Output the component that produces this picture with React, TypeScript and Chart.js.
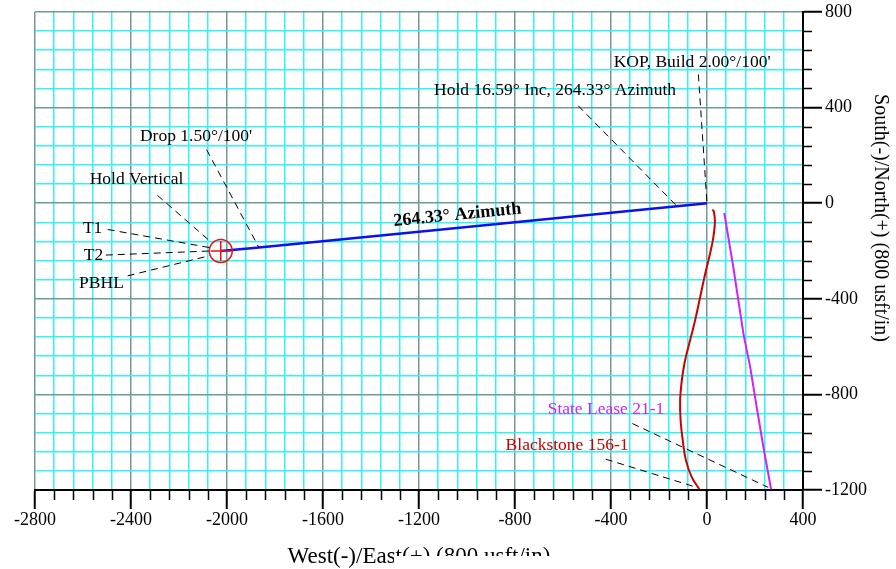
import React, { useEffect, useRef } from 'react';
import { Chart, registerables } from 'chart.js';

Chart.register(...registerables);

const SERIF = '"Liberation Serif", "Times New Roman", serif';

// Axis ranges (usft)
const xMin = -2800;
const xMax = 400;
const yMin = -1200;
const yMax = 800;
const gridStep = 80;
const majorStep = 400;

// Plan wellbore: West(-)/East(+) and South(-)/North(+)
const planEast = [0, -30, -125, -600, -1200, -1867, -2026];
const planNorth = [0, -3, -12.4, -59.6, -119, -185, -200];

// Offset well: State Lease 21-1
const stateLeaseEast = [72, 110, 152, 180, 207, 235, 267];
const stateLeaseNorth = [-41, -270, -547, -686, -853, -1020, -1197];

// Offset well: Blackstone 156-1
const blackstoneEast = [22, 28, 33, 26, 12, -8, -29, -50, -71, -92, -105, -112, -110, -101, -88, -64, -32];
const blackstoneNorth = [-27, -34, -75, -145, -214, -297, -395, -492, -576, -660, -742, -825, -908, -992, -1075, -1145, -1197];

// Target (PBHL)
const targetEast = -2026;
const targetNorth = -200;

// Annotation texts
const labelTexts = [
  "KOP, Build 2.00\u00B0/100'",
  'Hold 16.59\u00B0 Inc, 264.33\u00B0 Azimuth',
  "Drop 1.50\u00B0/100'",
  'Hold Vertical',
  'T1',
  'T2',
  'PBHL',
  'State Lease 21-1',
  'Blackstone 156-1',
];
// label anchor (data units), leader start, leader end
const labelEast = [-62, -633, -2129, -2377, -2560, -2556, -2523, -421, -583];
const labelNorth = [590, 474, 279, 100, -104, -217, -336, -864, -1015];
const leaderFromEast = [-36, -537, -2085, -2290, -2497, -2505, -2414, -311, -422];
const leaderFromNorth = [539, 408, 224, 33, -110, -217, -304, -922, -1071];
const leaderToEast = [0, -125, -1867, -2064, -2071, -2071, -2078, 255, -43];
const leaderToNorth = [0, -12.4, -185.4, -165, -186, -200, -221, -1189, -1189];
const labelColors = ['#000', '#000', '#000', '#000', '#000', '#000', '#000', '#cc22ff', '#cc0000'];

const azimuthLabel = '264.33\u00B0 Azimuth';
const azimuthLabelEast = -1040;
const azimuthLabelNorth = -50;

const xTitle = 'West(-)/East(+) (800 usft/in)';
const yTitle = 'South(-)/North(+) (800 usft/in)';

const isMajor = (v: number) => Math.abs(v % majorStep) < 1e-6;

const toPts = (xs: number[], ys: number[]) => xs.map((x, i) => ({ x, y: ys[i] }));

const overlayPlugin = {
  id: 'overlay',
  afterDatasetsDraw(chart: any) {
    const { ctx, chartArea } = chart;
    const xs = chart.scales.x;
    const ys = chart.scales.y;
    const px = (v: number) => xs.getPixelForValue(v);
    const py = (v: number) => ys.getPixelForValue(v);
    ctx.save();

    // minor ticks
    ctx.strokeStyle = '#000';
    ctx.lineWidth = 1.5;
    ctx.beginPath();
    xs.ticks.forEach((t: any) => {
      if (!isMajor(t.value)) {
        const x = Math.round(px(t.value)) + 0.5;
        ctx.moveTo(x, chartArea.bottom);
        ctx.lineTo(x, chartArea.bottom + 10);
      }
    });
    ys.ticks.forEach((t: any) => {
      if (!isMajor(t.value)) {
        const y = Math.round(py(t.value)) + 0.5;
        ctx.moveTo(chartArea.right, y);
        ctx.lineTo(chartArea.right + 9, y);
      }
    });
    ctx.stroke();

    // target symbol
    const tx = px(targetEast);
    const ty = py(targetNorth);
    ctx.strokeStyle = '#ee1111';
    ctx.lineWidth = 1.5;
    ctx.beginPath();
    ctx.arc(tx, ty, 11.5, 0, Math.PI * 2);
    ctx.stroke();
    ctx.beginPath();
    ctx.moveTo(tx, ty - 10);
    ctx.lineTo(tx, ty + 10);
    ctx.moveTo(tx - 10, ty);
    ctx.lineTo(tx + 10, ty);
    ctx.stroke();

    // leader lines
    ctx.strokeStyle = '#000';
    ctx.lineWidth = 1;
    ctx.setLineDash([7, 5]);
    labelTexts.forEach((_, i) => {
      ctx.beginPath();
      ctx.moveTo(px(leaderFromEast[i]), py(leaderFromNorth[i]));
      ctx.lineTo(px(leaderToEast[i]), py(leaderToNorth[i]));
      ctx.stroke();
    });
    ctx.setLineDash([]);

    // labels
    ctx.textAlign = 'center';
    ctx.textBaseline = 'middle';
    ctx.font = `17.5px ${SERIF}`;
    labelTexts.forEach((txt, i) => {
      ctx.fillStyle = labelColors[i];
      ctx.fillText(txt, px(labelEast[i]), py(labelNorth[i]));
    });

    // azimuth label along the line
    const ang = Math.atan2(py(0) - py(targetNorth), px(0) - px(targetEast));
    ctx.save();
    ctx.translate(px(azimuthLabelEast), py(azimuthLabelNorth));
    ctx.rotate(ang);
    ctx.font = `bold 18px ${SERIF}`;
    ctx.fillStyle = '#000';
    ctx.fillText(azimuthLabel, 0, 0);
    ctx.restore();

    // axis titles
    ctx.fillStyle = '#000';
    ctx.font = `23px ${SERIF}`;
    ctx.textAlign = 'center';
    ctx.textBaseline = 'alphabetic';
    ctx.fillText(xTitle, (chartArea.left + chartArea.right) / 2, 563);
    // white box clipping the title (legend box of the original)
    ctx.fillStyle = '#fff';
    ctx.fillRect(394, 556, 502, 13);

    ctx.save();
    ctx.translate(880, 218);
    ctx.rotate(Math.PI / 2);
    ctx.fillStyle = '#000';
    ctx.font = `20px ${SERIF}`;
    ctx.textBaseline = 'middle';
    ctx.fillText(yTitle, 0, 0);
    ctx.restore();

    ctx.restore();
  },
};

export default function App() {
  const ref = useRef<HTMLCanvasElement | null>(null);

  useEffect(() => {
    if (!ref.current) return;
    const gridColor = (c: any) => (c.tick && isMajor(c.tick.value) ? '#6f9a9a' : '#30f4f4');
    const tickColor = (c: any) => (c.tick && isMajor(c.tick.value) ? '#000' : 'rgba(0,0,0,0)');
    const chart = new Chart(ref.current, {
      type: 'scatter',
      data: {
        datasets: [
          {
            label: 'Plan',
            data: toPts(planEast, planNorth),
            showLine: true,
            borderColor: '#0a10ee',
            borderWidth: 2.5,
            pointRadius: 0,
            tension: 0,
          },
          {
            label: 'State Lease 21-1',
            data: toPts(stateLeaseEast, stateLeaseNorth),
            showLine: true,
            borderColor: '#cc22ff',
            borderWidth: 2,
            pointRadius: 0,
            tension: 0.1,
          },
          {
            label: 'Blackstone 156-1',
            data: toPts(blackstoneEast, blackstoneNorth),
            showLine: true,
            borderColor: '#cc0000',
            borderWidth: 2,
            pointRadius: 0,
            tension: 0.4,
          },
        ],
      },
      options: {
        animation: false,
        responsive: false,
        devicePixelRatio: 1,
        layout: { padding: { left: 35, top: 10, right: 0, bottom: 0 } },
        plugins: { legend: { display: false }, tooltip: { enabled: false } },
        scales: {
          x: {
            type: 'linear',
            position: 'bottom',
            min: xMin,
            max: xMax,
            afterFit: (s: any) => {
              s.height = 79;
            },
            ticks: {
              stepSize: gridStep,
              autoSkip: false,
              maxRotation: 0,
              minRotation: 0,
              padding: 2,
              color: '#000',
              font: { family: SERIF, size: 18, lineHeight: 1 },
              callback: (v: any) => (isMajor(Number(v)) ? String(v) : ''),
            },
            grid: {
              color: gridColor,
              lineWidth: 1.5,
              drawTicks: true,
              tickLength: 19,
              tickColor,
              tickWidth: 2,
            },
            border: { display: true, color: '#000', width: 2 },
          },
          y: {
            type: 'linear',
            position: 'right',
            min: yMin,
            max: yMax,
            afterFit: (s: any) => {
              s.width = 93;
            },
            ticks: {
              stepSize: gridStep,
              autoSkip: false,
              padding: 3,
              color: '#000',
              font: { family: SERIF, size: 18, lineHeight: 1 },
              callback: (v: any) => (isMajor(Number(v)) ? String(v) : ''),
            },
            grid: {
              color: gridColor,
              lineWidth: 1.5,
              drawTicks: true,
              tickLength: 19,
              tickColor,
              tickWidth: 2,
            },
            border: { display: true, color: '#000', width: 2 },
          },
        },
      },
      plugins: [overlayPlugin],
    });
    return () => chart.destroy();
  }, []);

  return (
    <div style={{ position: 'fixed', left: 0, top: 0, width: 896, height: 569, background: '#fff' }}>
      <canvas ref={ref} width={896} height={569} style={{ display: 'block', width: 896, height: 569 }} />
    </div>
  );
}
